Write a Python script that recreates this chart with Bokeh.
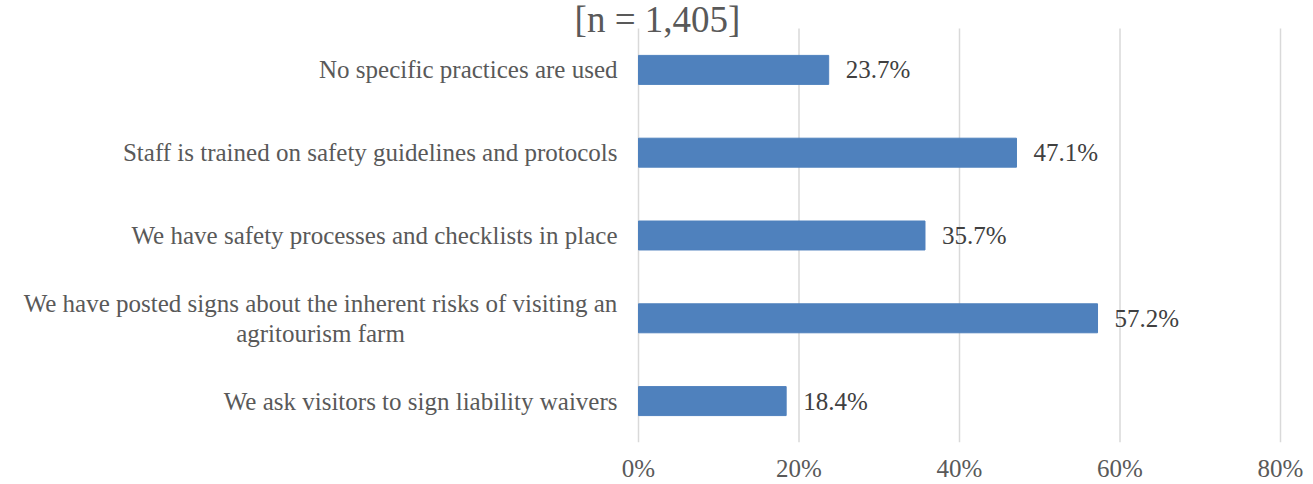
from bokeh.plotting import figure
from bokeh.models import Range1d, FixedTicker, PrintfTickFormatter, ColumnDataSource, Label
from bokeh.embed import file_html
from bokeh.resources import INLINE
from bokeh.core.properties import value

categories = [
    "No specific practices are used",
    "Staff is trained on safety guidelines and protocols",
    "We have safety processes and checklists in place",
    "We have posted signs about the inherent risks of visiting an\nagritourism farm",
    "We ask visitors to sign liability waivers",
]
percentages = [23.7, 47.1, 35.7, 57.2, 18.4]
x_ticks = [0, 20, 40, 60, 80]
title_text = "[n = 1,405]"

FONT = "Liberation Serif"
W, H = 1313, 484
PLOT_LEFT, PLOT_RIGHT = 638, 1280      # pixel position of 0% and 80%
PX_PER_UNIT = (PLOT_RIGHT - PLOT_LEFT) / (x_ticks[-1] - x_ticks[0])

n = len(categories)
ypos = [n - 1 - i for i in range(n)]  # first category on top

# label layout: single-line labels right-aligned; wrapped label centred line by line
LABEL_GAP = 21
WRAP_FIRST_LINE_W = 594
lab_align = ["center" if "\n" in c else "right" for c in categories]
lab_xoff = [-(LABEL_GAP + WRAP_FIRST_LINE_W / 2) if "\n" in c else -LABEL_GAP for c in categories]

src = ColumnDataSource(dict(
    y=ypos,
    pct=percentages,
    lbl=[f"{v:.1f}%" for v in percentages],
    cat=categories,
    zero=[0] * n,
    align=lab_align,
    xoff=lab_xoff,
))

ROW_TOP_EXTRA = 0.338  # room above the rows for the title

p = figure(
    width=W, height=H,
    y_range=Range1d(-0.5, n - 0.5 + ROW_TOP_EXTRA),
    x_range=Range1d(x_ticks[0] - PLOT_LEFT / PX_PER_UNIT,
                    x_ticks[-1] + (W - PLOT_RIGHT) / PX_PER_UNIT),
    y_axis_location=None,
    output_backend="svg", toolbar_location=None,
    min_border_left=0, min_border_right=0,
    min_border_top=0, min_border_bottom=42,
)
p.outline_line_color = None
p.background_fill_color = "white"
p.border_fill_color = "white"

# grid lines (stop at the top of the category rows)
p.xgrid.grid_line_color = None
p.ygrid.grid_line_color = None
p.segment(x0=x_ticks, x1=x_ticks, y0=[-0.5] * len(x_ticks), y1=[n - 0.5] * len(x_ticks),
          line_color="#d9d9d9", line_width=1.5)

p.hbar(y="y", right="pct", left=0, height=0.35, source=src,
       fill_color="#4f81bd", line_color="#4f81bd")

# value labels
p.text(x="pct", y="y", text="lbl", source=src, x_offset=17,
       text_align="left", text_baseline="middle",
       text_font=value(FONT), text_font_size="25px", text_color="#404040")

# category labels
p.text(x="zero", y="y", text="cat", source=src, x_offset="xoff",
       text_align="align", text_baseline="middle", text_line_height=1.1,
       text_font=value(FONT), text_font_size="25px", text_color="#595959")

# x axis
xa = p.xaxis[0]
xa.ticker = FixedTicker(ticks=x_ticks)
xa.formatter = PrintfTickFormatter(format="%d%%")
xa.axis_line_color = None
xa.major_tick_line_color = None
xa.minor_tick_line_color = None
xa.major_label_text_font = FONT
xa.major_label_text_font_size = "25px"
xa.major_label_text_color = "#595959"
xa.major_label_standoff = 6

# title
p.add_layout(Label(x=657, y=423, x_units="screen", y_units="screen",
                   text=title_text, text_align="center",
                   text_baseline="alphabetic",
                   text_font=FONT, text_font_size="37px", text_color="#595959"))

open("out.html", "w").write(file_html(p, INLINE))
